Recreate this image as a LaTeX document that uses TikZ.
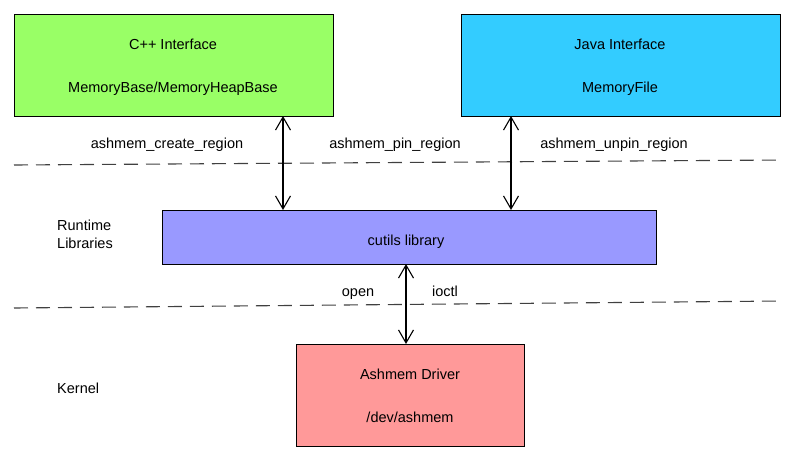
\documentclass[tikz,border=0pt]{standalone}
\usepackage{fontspec}
\setmainfont{Liberation Sans}
\usetikzlibrary{arrows.meta}
\begin{document}
\begin{tikzpicture}[x=1pt,y=-1pt,
  box/.style={draw=black, line width=1pt, minimum width=#1, anchor=north west, inner sep=0pt},
  lbl/.style={font=\fontsize{14.5}{17.5}\selectfont, inner sep=0pt, anchor=base},
  conn/.style={line width=1.1pt, {Straight Barb[length=13pt,width=15pt]}-{Straight Barb[length=13pt,width=15pt]}},
  sep/.style={dash pattern=on 14pt off 8pt, line width=1.1pt, draw=black!75}]
\useasboundingbox (0,0) rectangle (797,461);
\definecolor{cppgreen}{HTML}{99FF66}
\definecolor{javablue}{HTML}{33CCFF}
\definecolor{cutils}{HTML}{9999FF}
\definecolor{ashred}{HTML}{FF9999}
% boxes
\node[box=319pt, minimum height=102pt, fill=cppgreen] (cpp) at (14,14) {};
\node[box=319pt, minimum height=102pt, fill=javablue] (java) at (461,14) {};
\node[box=494pt, minimum height=54pt, fill=cutils] (cut) at (162,210) {};
\node[box=228pt, minimum height=102pt, fill=ashred] (ash) at (296,344) {};
% box texts
\node[lbl] (cppt1) at (173,49) {C++ Interface};
\node[lbl] (cppt2) at (173,92) {MemoryBase/MemoryHeapBase};
\node[lbl] (javat1) at (620,49) {Java Interface};
\node[lbl] (javat2) at (620,92) {MemoryFile};
\node[lbl] (cutt) at (406,245) {cutils library};
\node[lbl] (asht1) at (410,379) {Ashmem Driver};
\node[lbl] (asht2) at (410,422) {/dev/ashmem};
% layer labels
\node[lbl, anchor=base west, align=left] (rt) at (57,248) {Runtime\\Libraries};
\node[lbl, anchor=base west] (kern) at (57,393) {Kernel};
% dashed separators
\coordinate (s1a) at (14,165);
\coordinate (s1b) at (783,160);
\coordinate (s2a) at (14,308);
\coordinate (s2b) at (783,301);
\draw[sep] (s1a) -- (s1b);
\draw[sep] (s2a) -- (s2b);
% connectors
\coordinate (c1t) at (283,116);
\coordinate (c1b) at (283,210);
\coordinate (c2t) at (511,116);
\coordinate (c2b) at (511,210);
\coordinate (c3t) at (406,264);
\coordinate (c3b) at (406,344);
\draw[conn] (c1t) -- (c1b);
\draw[conn] (c2t) -- (c2b);
\draw[conn] (c3t) -- (c3b);
% connector labels
\node[lbl] (l1) at (167,148) {ashmem\_create\_region};
\node[lbl] (l2) at (395,148) {ashmem\_pin\_region};
\node[lbl] (l3) at (614,148) {ashmem\_unpin\_region};
\node[lbl] (l4) at (358,296) {open};
\node[lbl] (l5) at (445,296) {ioctl};
\end{tikzpicture}
\end{document}
